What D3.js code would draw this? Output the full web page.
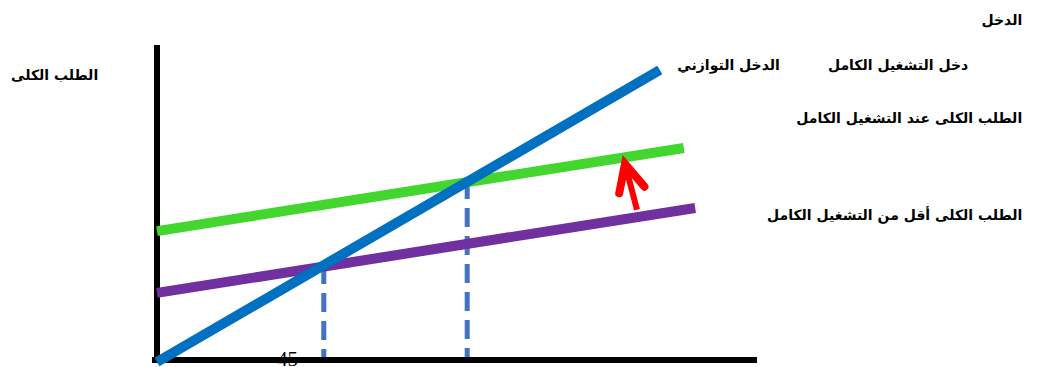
<!DOCTYPE html>
<html>
<head>
<meta charset="utf-8">
<script src="https://cdn.jsdelivr.net/npm/d3@7"></script>
<style>
  body { margin: 0; background: #fff; }
  text { font-family: "DejaVu Sans", sans-serif; font-weight: bold; }
</style>
</head>
<body>
<div id="chart"></div>
<script>
// Data in chart units (x: income, y: aggregate demand)
const incomeLine = [[0, 0], [8.38, 9.21]];          // 45 degree line
const fullDemand = [[0, 4.13], [8.78, 6.75]];       // demand at full employment
const lowDemand = [[0, 2.18], [8.97, 4.86]];        // demand below full employment
const dropLines = [
  { x: 2.78, top: 3.06 },                           // equilibrium income
  { x: 5.17, top: 5.74 },                           // full employment income
];
const arrow = { from: [8.0, 4.8], to: [7.8, 6.25] };

const labels = [
  { text: "الدخل", x: 14.42, y: 10.63 },
  { text: "الطلب الكلى", x: -0.98, y: 8.9 },
  { text: "الدخل التوازني", x: 10.38, y: 9.21 },
  { text: "دخل التشغيل الكامل", x: 13.52, y: 9.21 },
  { text: "الطلب الكلى عند التشغيل الكامل", x: 14.42, y: 7.54 },
  { text: "الطلب الكلى أقل من التشغيل الكامل", x: 14.42, y: 4.48 },
];

const W = 1045, H = 367;
const svg = d3.select("#chart").append("svg").attr("width", W).attr("height", H);

const x = d3.scaleLinear().domain([0, 10]).range([157, 757]);
const y = d3.scaleLinear().domain([0, 10]).range([362, 45]);

const line = d3.line().x((d) => x(d[0])).y((d) => y(d[1]));

// "45" label partly hidden under axis
svg.append("text")
  .attr("x", x(2.0)).attr("y", y(0) + 4)
  .style("font-family", "'Liberation Serif', serif")
  .style("font-weight", "normal")
  .attr("font-size", 21)
  .text("45");

// axes
svg.append("line")
  .attr("x1", x(0)).attr("x2", x(0))
  .attr("y1", y(10)).attr("y2", y(0) + 1)
  .attr("stroke", "#000").attr("stroke-width", 6);
svg.append("line")
  .attr("x1", x(0) - 5).attr("x2", x(10))
  .attr("y1", y(0) - 2).attr("y2", y(0) - 2)
  .attr("stroke", "#000").attr("stroke-width", 6);

// dashed drop lines
dropLines.forEach((d) => {
  svg.append("line")
    .attr("x1", x(d.x)).attr("x2", x(d.x))
    .attr("y1", y(d.top)).attr("y2", y(0) - 5)
    .attr("stroke", "#4472c4").attr("stroke-width", 5)
    .attr("stroke-dasharray", "19 9");
});

// demand lines
svg.append("path").datum(lowDemand).attr("d", line)
  .attr("fill", "none").attr("stroke", "#7030a0").attr("stroke-width", 10);
svg.append("path").datum(fullDemand).attr("d", line)
  .attr("fill", "none").attr("stroke", "#42d62f").attr("stroke-width", 10);

// 45 degree line
svg.append("path").datum(incomeLine).attr("d", line)
  .attr("fill", "none").attr("stroke", "#0070c0").attr("stroke-width", 10);

// red arrow
const ax1 = x(arrow.from[0]), ay1 = y(arrow.from[1]);
const ax2 = x(arrow.to[0]), ay2 = y(arrow.to[1]);
const ang = Math.atan2(ay1 - ay2, ax1 - ax2);
const hl = 30, spread = 0.45;
svg.append("line")
  .attr("x1", ax1).attr("y1", ay1).attr("x2", ax2).attr("y2", ay2)
  .attr("stroke", "red").attr("stroke-width", 6);
svg.append("path")
  .attr("d", `M${ax2 + hl * Math.cos(ang + spread)},${ay2 + hl * Math.sin(ang + spread)} L${ax2},${ay2} L${ax2 + hl * Math.cos(ang - spread)},${ay2 + hl * Math.sin(ang - spread)}`)
  .attr("fill", "none").attr("stroke", "red").attr("stroke-width", 8)
  .attr("stroke-linecap", "round").attr("stroke-linejoin", "miter");

// labels
svg.selectAll(".lbl").data(labels).enter().append("text")
  .attr("class", "lbl")
  .attr("x", (d) => x(d.x)).attr("y", (d) => y(d.y))
  .attr("text-anchor", "end")
  .attr("font-size", 14)
  .text((d) => d.text);
</script>
</body>
</html>
